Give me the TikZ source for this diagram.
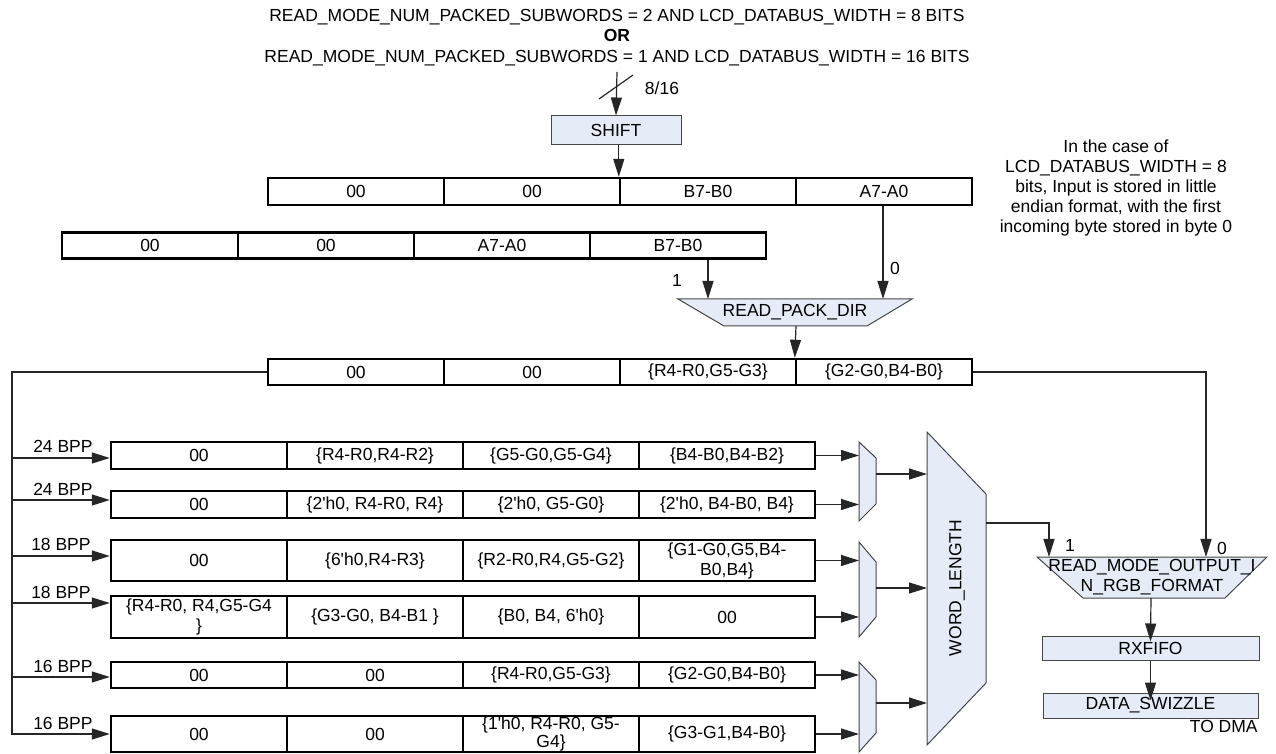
\documentclass[tikz,border=0pt]{standalone}
\usepackage{fontspec}
\setmainfont{Liberation Sans}
\usetikzlibrary{arrows.meta}
\definecolor{muxfill}{RGB}{229,236,247}
\definecolor{muxline}{RGB}{70,70,70}
\newcommand{\apos}{\textquotesingle}
\newcommand{\regrow}[8]{%
  \node[cell, minimum height=#4] (#1c1) at (#2+88,#3) {#5};
  \node[cell, minimum height=#4] (#1c2) at (#2+264,#3) {#6};
  \node[cell, minimum height=#4] (#1c3) at (#2+440,#3) {#7};
  \node[cell, minimum height=#4] (#1c4) at (#2+616,#3) {#8};}
\begin{document}
\begin{tikzpicture}[x=0.5pt,y=-0.5pt,
  font=\fontsize{8.75}{10}\selectfont,
  cell/.style={draw=black, line width=1.2pt, minimum width=88pt, inner sep=0pt, align=center},
  wire/.style={draw=black!85, line width=0.6pt},
  arr/.style={wire, -{Triangle[length=9pt,width=5.5pt]}},
  mux/.style={draw=muxline, fill=muxfill, line width=0.5pt},
  blk/.style={draw=muxline, fill=muxfill, line width=0.5pt, inner sep=0pt},
  lbl/.style={inner sep=0pt}]
\useasboundingbox (0,0) rectangle (1276,754);

% top text
\node[lbl, anchor=base] (t1) at (617,22) {READ\_MODE\_NUM\_PACKED\_SUBWORDS = 2 AND LCD\_DATABUS\_WIDTH = 8 BITS};
\node[lbl, anchor=base] (t2) at (617,42) {\textbf{OR}};
\node[lbl, anchor=base] (t3) at (617,63) {READ\_MODE\_NUM\_PACKED\_SUBWORDS = 1 AND LCD\_DATABUS\_WIDTH = 16 BITS};
\coordinate (tin) at (617,72);
\node[lbl] (w816) at (662,88) {8/16};

% shift
\node[blk, minimum width=65pt, minimum height=14.5pt] (shift) at (616,130.5) {SHIFT};
\draw[arr] (tin) -- (shift.north);
\draw[wire] (599,99) -- (633,75);

% note
\node[lbl, align=center] (note) at (1116,188) {In the case of\\LCD\_DATABUS\_WIDTH = 8\\bits, Input is stored in little\\endian format, with the first\\incoming byte stored in byte 0};

% register rows
\regrow{r1}{268}{191.5}{13.5pt}{00}{00}{B7-B0}{A7-A0}
\regrow{r2}{62}{245.5}{13pt}{00}{00}{A7-A0}{B7-B0}
\regrow{r3}{268}{372}{13pt}{00}{00}{\{R4-R0,G5-G3\}}{\{G2-G0,B4-B0\}}
\regrow{b1}{111}{455.5}{13.5pt}{00}{\{R4-R0,R4-R2\}}{\{G5-G0,G5-G4\}}{\{B4-B0,B4-B2\}}
\regrow{b2}{111}{504.5}{13.5pt}{00}{\{2\apos h0, R4-R0, R4\}}{\{2\apos h0, G5-G0\}}{\{2\apos h0, B4-B0, B4\}}
\regrow{b3}{111}{560.5}{20.5pt}{00}{\{6\apos h0,R4-R3\}}{\{R2-R0,R4,G5-G2\}}{\{G1-G0,G5,B4-\\B0,B4\}}
\regrow{b4}{111}{617}{21pt}{\{R4-R0, R4,G5-G4\\\}}{\{G3-G0, B4-B1 \}}{\{B0, B4, 6\apos h0\}}{00}
\regrow{b5}{111}{675}{13pt}{00}{00}{\{R4-R0,G5-G3\}}{\{G2-G0,B4-B0\}}
\regrow{b6}{111}{734}{18pt}{00}{00}{\{1\apos h0, R4-R0, G5-\\[-1pt]G4\}}{\{G3-G1,B4-B0\}}

\draw[arr] (shift.south -| r1c3.north west) -- (r1c3.north west);

% READ_PACK_DIR mux
\draw[mux] (678,299) -- (912,299) -- (867,326) -- (724,326) -- cycle;
\node[lbl] (pd) at (795,312) {READ\_PACK\_DIR};
\coordinate (pdin1) at (708,299);
\coordinate (pdin0) at (883,299);
\coordinate (pdout) at (796,326);
\draw[arr] (r2c4.south -| pdin1) -- (pdin1);
\draw[arr] (r1c4.south -| pdin0) -- (pdin0);
\node[lbl] (one) at (677,280) {1};
\node[lbl] (zero) at (895,268) {0};
\draw[arr] (pdout) -- (r3c4.north west);

% left bus
\draw[arr] (r3c1.west) -- (12,372) -- (12,734) -- (b6c1.west);
\draw[arr] (12,458) -- (b1c1.west |- 0,458);
\draw[arr] (12,500) -- (b2c1.west |- 0,500);
\draw[arr] (12,556) -- (b3c1.west |- 0,556);
\draw[arr] (12,603) -- (b4c1.west |- 0,603);
\draw[arr] (12,677) -- (b5c1.west |- 0,677);
\node[lbl, anchor=base east] (l1) at (93,453) {24 BPP};
\node[lbl, anchor=base east] (l2) at (93,495) {24 BPP};
\node[lbl, anchor=base east] (l3) at (91,551) {18 BPP};
\node[lbl, anchor=base east] (l4) at (91,598) {18 BPP};
\node[lbl, anchor=base east] (l5) at (93,672) {16 BPP};
\node[lbl, anchor=base east] (l6) at (93,729) {16 BPP};

% small muxes
\draw[mux] (859,442) coordinate (m1a) -- (876,458) -- (876,504) -- (859,521) -- cycle;
\draw[mux] (859,542) coordinate (m2a) -- (876,562) -- (876,617) -- (859,637) -- cycle;
\draw[mux] (859,662) coordinate (m3a) -- (876,680) -- (876,733) -- (859,752) -- cycle;
\foreach \r/\m in {b1/m1a,b2/m1a,b3/m2a,b4/m2a,b5/m3a,b6/m3a}
  \draw[arr] (\r c4.east) -- (\r c4.east -| \m);
\coordinate (m1o) at (876,474);
\coordinate (m2o) at (876,588);
\coordinate (m3o) at (876,703);

% WORD_LENGTH
\draw[mux] (927,432) coordinate (wla) -- (986,494) -- (986,683) -- (927,745) -- cycle;
\node[lbl, rotate=90] (wl) at (957,588) {WORD\_LENGTH};
\draw[arr] (m1o) -- (m1o -| wla);
\draw[arr] (m2o) -- (m2o -| wla);
\draw[arr] (m3o) -- (m3o -| wla);

% output mux
\draw[mux] (1037,557) -- (1267,557) -- (1225,598) -- (1083,598) -- cycle;
\node[lbl, align=center] (rm) at (1152,577) {READ\_MODE\_OUTPUT\_I\\N\_RGB\_FORMAT};
\coordinate (wlo) at (986,523);
\coordinate (rmin1) at (1049,557);
\coordinate (rmin0) at (1206,557);
\coordinate (rmo) at (1151,598);
\draw[arr] (wlo) -- (1049,523) -- (rmin1);
\draw[arr] (r3c4.east) -- (1206,372) -- (rmin0);
\node[lbl] (one2) at (1070,545) {1};
\node[lbl] (zero2) at (1222,548) {0};

% RXFIFO, DATA_SWIZZLE
\node[blk, minimum width=108.5pt, minimum height=12pt] (rx) at (1150.5,648) {RXFIFO};
\node[blk, minimum width=107.5pt, minimum height=12.5pt] (ds) at (1150.5,705.5) {DATA\_SWIZZLE};
\node[lbl, anchor=north east] (dma) at (1258,720) {TO DMA};
\draw[arr] (rmo) -- ([yshift=-3pt]rx.north);
\draw[arr] (rx.south) -- ([yshift=-4pt]ds.north);
\end{tikzpicture}
\end{document}
